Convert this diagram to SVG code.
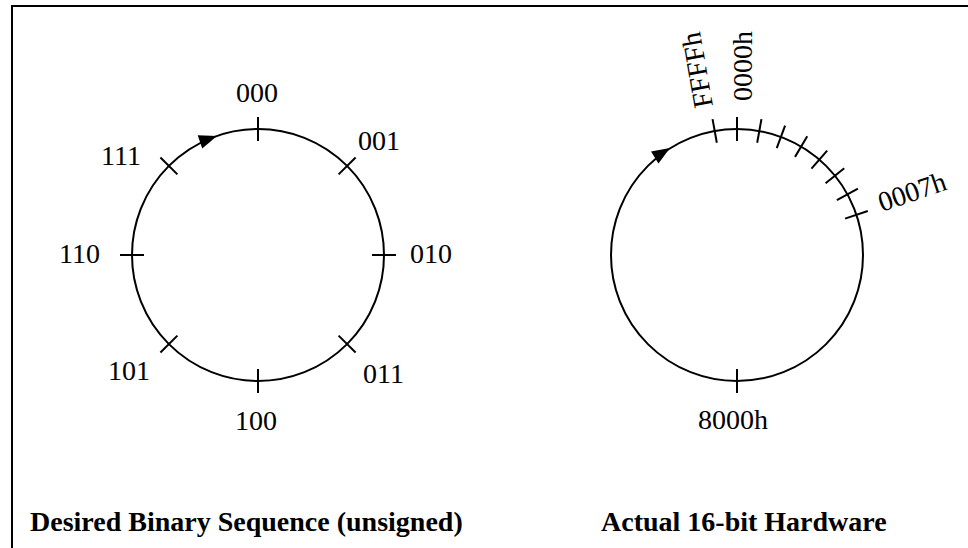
<svg xmlns="http://www.w3.org/2000/svg" width="968" height="548" viewBox="0 0 968 548">
<style>
.ring{fill:none;stroke:#000;stroke-width:2}
.tick{stroke:#000;stroke-width:2}
.lbl{font-family:"Liberation Serif","Times New Roman",serif;font-size:28px;fill:#000}
.title{font-family:"Liberation Serif","Times New Roman",serif;font-size:28px;font-weight:bold;fill:#000}
.head{fill:#000}
</style>
<rect width="968" height="548" fill="#fff"/>
<path d="M12,548 V6 H968" fill="none" stroke="#000" stroke-width="2"/>
<g id="binary-ring">
<circle class="ring" cx="258" cy="255" r="126"/>
<g class="tick">
<line x1="258" y1="117" x2="258" y2="141"/>
<line x1="258" y1="117" x2="258" y2="141" transform="rotate(45 258 255)"/>
<line x1="258" y1="117" x2="258" y2="141" transform="rotate(90 258 255)"/>
<line x1="258" y1="117" x2="258" y2="141" transform="rotate(135 258 255)"/>
<line x1="258" y1="117" x2="258" y2="141" transform="rotate(180 258 255)"/>
<line x1="258" y1="117" x2="258" y2="141" transform="rotate(225 258 255)"/>
<line x1="258" y1="117" x2="258" y2="141" transform="rotate(270 258 255)"/>
<line x1="258" y1="117" x2="258" y2="141" transform="rotate(315 258 255)"/>
</g>
<polygon class="head" points="0,0 -18,-7 -18,7" transform="translate(217,136) rotate(-19)"/>
<text class="lbl" x="257" y="102" text-anchor="middle">000</text>
<text class="lbl" x="358" y="150">001</text>
<text class="lbl" x="410" y="263">010</text>
<text class="lbl" x="363" y="383">011</text>
<text class="lbl" x="256" y="430" text-anchor="middle">100</text>
<text class="lbl" x="108" y="380">101</text>
<text class="lbl" x="100" y="263" text-anchor="end">110</text>
<text class="lbl" x="141" y="165" text-anchor="end">111</text>
</g>
<g id="hardware-ring">
<circle class="ring" cx="737" cy="255" r="126"/>
<g class="tick">
<line x1="737" y1="117" x2="737" y2="141" transform="rotate(-10.2 737 255)"/>
<line x1="737" y1="117" x2="737" y2="141"/>
<line x1="737" y1="117" x2="737" y2="141" transform="rotate(10.2 737 255)"/>
<line x1="737" y1="117" x2="737" y2="141" transform="rotate(20.4 737 255)"/>
<line x1="737" y1="117" x2="737" y2="141" transform="rotate(30.6 737 255)"/>
<line x1="737" y1="117" x2="737" y2="141" transform="rotate(40.8 737 255)"/>
<line x1="737" y1="117" x2="737" y2="141" transform="rotate(51 737 255)"/>
<line x1="737" y1="117" x2="737" y2="141" transform="rotate(61.2 737 255)"/>
<line x1="737" y1="117" x2="737" y2="141" transform="rotate(71.4 737 255)"/>
<line x1="737" y1="117" x2="737" y2="141" transform="rotate(180 737 255)"/>
</g>
<polygon class="head" points="0,0 -18,-7 -18,7" transform="translate(670,148) rotate(-32)"/>
<text class="lbl" transform="translate(713,106) rotate(-100)">FFFFh</text>
<text class="lbl" transform="translate(752,101) rotate(-90)">0000h</text>
<text class="lbl" transform="translate(882,212) rotate(-19)">0007h</text>
<text class="lbl" x="698" y="429">8000h</text>
</g>
<g id="captions">
<text class="title" x="30" y="531">Desired Binary Sequence (unsigned)</text>
<text class="title" x="601" y="531">Actual 16-bit Hardware</text>
</g>
</svg>
